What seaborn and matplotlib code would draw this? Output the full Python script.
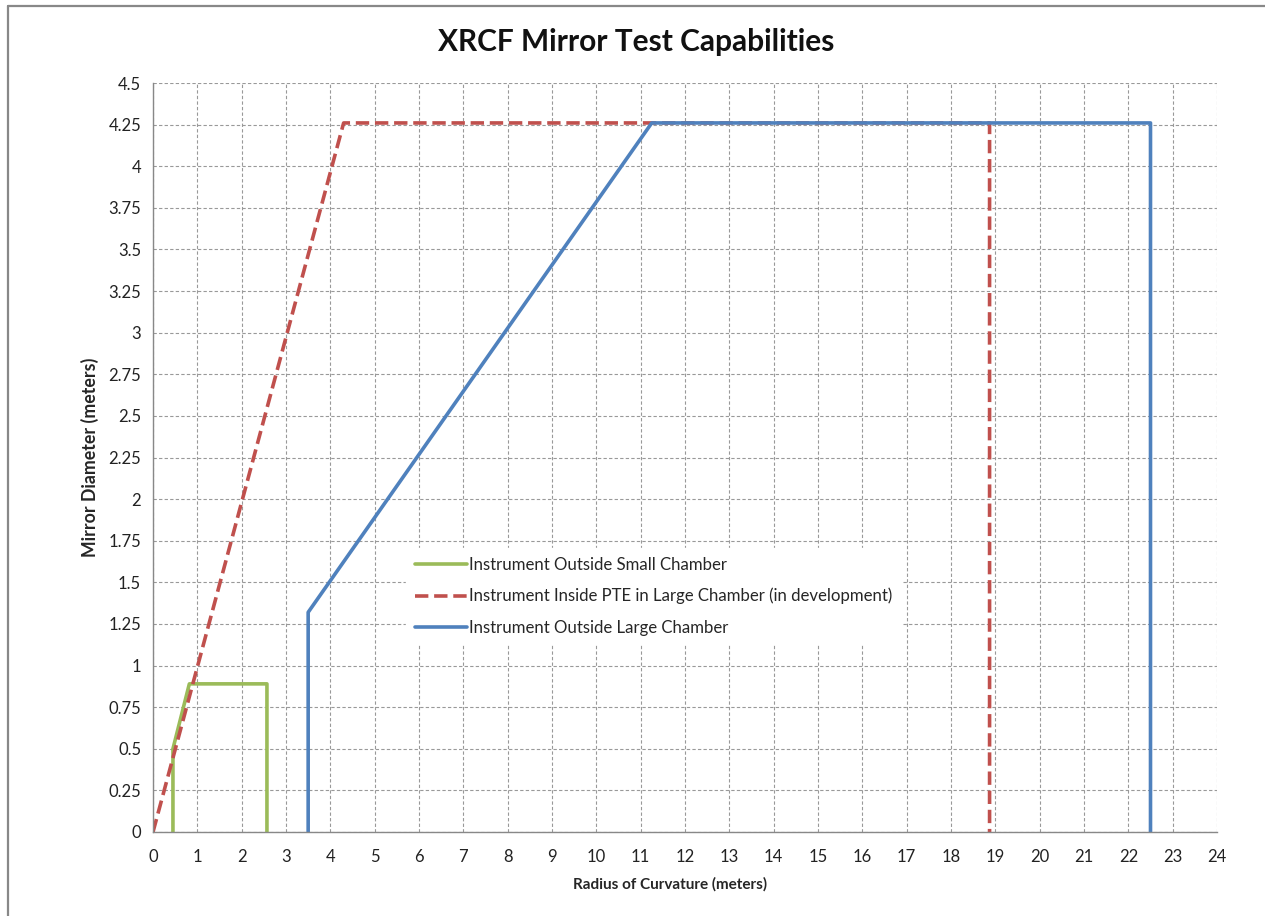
import numpy as np
import pandas as pd
import seaborn as sns
import matplotlib.pyplot as plt
from matplotlib.ticker import MultipleLocator
from matplotlib.lines import Line2D

# series (radius of curvature vs mirror diameter, meters)
small_x = [0.45, 0.45, 0.82, 2.57, 2.57]
small_y = [0.0, 0.50, 0.89, 0.89, 0.0]

pte_x = [0.0, 4.3, 18.87, 18.87]
pte_y = [0.0, 4.26, 4.26, 0.0]

large_x = [3.5, 3.5, 11.25, 22.5, 22.5]
large_y = [0.0, 1.32, 4.26, 4.26, 0.0]

labels = ["Instrument Outside Small Chamber",
          "Instrument Inside PTE in Large Chamber (in development)",
          "Instrument Outside Large Chamber"]
colors = ["#9BBB59", "#C0504D", "#4F81BD"]

x_ticks = np.arange(0, 25, 1)
y_ticks = np.arange(0, 4.51, 0.25)

sns.set_style("white")
plt.rcParams['font.family'] = ['Lato', 'DejaVu Sans']

fig = plt.figure(figsize=(12.65, 9.16), dpi=100)
ax = fig.add_axes([153/1265, 1 - 832/916, 1064/1265, 749/916])

df_small = pd.DataFrame({'x': small_x, 'y': small_y})
df_pte = pd.DataFrame({'x': pte_x, 'y': pte_y})
df_large = pd.DataFrame({'x': large_x, 'y': large_y})

lw = 2.6
sns.lineplot(data=df_small, x='x', y='y', sort=False, estimator=None, ax=ax,
             color=colors[0], linewidth=lw, label=labels[0])
sns.lineplot(data=df_pte, x='x', y='y', sort=False, estimator=None, ax=ax,
             color=colors[1], linewidth=lw, linestyle='--', dashes=(3.6, 3.3),
             label=labels[1])
sns.lineplot(data=df_large, x='x', y='y', sort=False, estimator=None, ax=ax,
             color=colors[2], linewidth=lw, label=labels[2])

ax.set_xlim(0, 24)
ax.set_ylim(0, 4.5)
ax.set_xticks(x_ticks)
ax.set_yticks(y_ticks)
ax.set_yticklabels(['{:g}'.format(v) for v in y_ticks])
ax.xaxis.set_minor_locator(MultipleLocator(0.5))

ax.grid(True, which='major', linestyle=(0, (3, 2)), color='#999999', linewidth=0.8)
ax.set_axisbelow(True)
for s in ['top', 'right']:
    ax.spines[s].set_visible(False)
for s in ['left', 'bottom']:
    ax.spines[s].set_color('#888888')
    ax.spines[s].set_linewidth(1.0)

ax.tick_params(axis='both', which='major', direction='out', length=5, width=1,
               color='#888888', labelsize=12, labelcolor='#222222')
ax.tick_params(axis='x', which='minor', direction='out', length=3, width=1,
               color='#888888')
ax.tick_params(axis='x', which='major', pad=7)

ax.set_xlabel("Radius of Curvature (meters)", fontsize=11, fontweight='bold', labelpad=9)
ax.set_ylabel("Mirror Diameter (meters)", fontsize=12.8, fontweight='bold', labelpad=7)
ax.xaxis.label.set_x(0.486)

leg = ax.legend(loc='upper left', bbox_to_anchor=(0.23, 0.39), frameon=True,
                fontsize=12.1, handlelength=3.1, handletextpad=0.15,
                labelspacing=0.9, borderpad=0.5)
leg.get_frame().set_facecolor('white')
leg.get_frame().set_edgecolor('white')
leg.get_frame().set_alpha(1.0)

fig.text(0.503, 0.954, "XRCF Mirror Test Capabilities", ha='center', va='center',
         fontsize=21.5, fontweight='bold', color='#111111')

# chart area border (top and left edges visible)
fig.add_artist(Line2D([8/1265, 8/1265], [0, 1 - 6/916], transform=fig.transFigure,
                      color='#888888', linewidth=1.6))
fig.add_artist(Line2D([8/1265, 1], [1 - 6/916, 1 - 6/916], transform=fig.transFigure,
                      color='#888888', linewidth=1.6))

fig.savefig('out.png', dpi=100)
